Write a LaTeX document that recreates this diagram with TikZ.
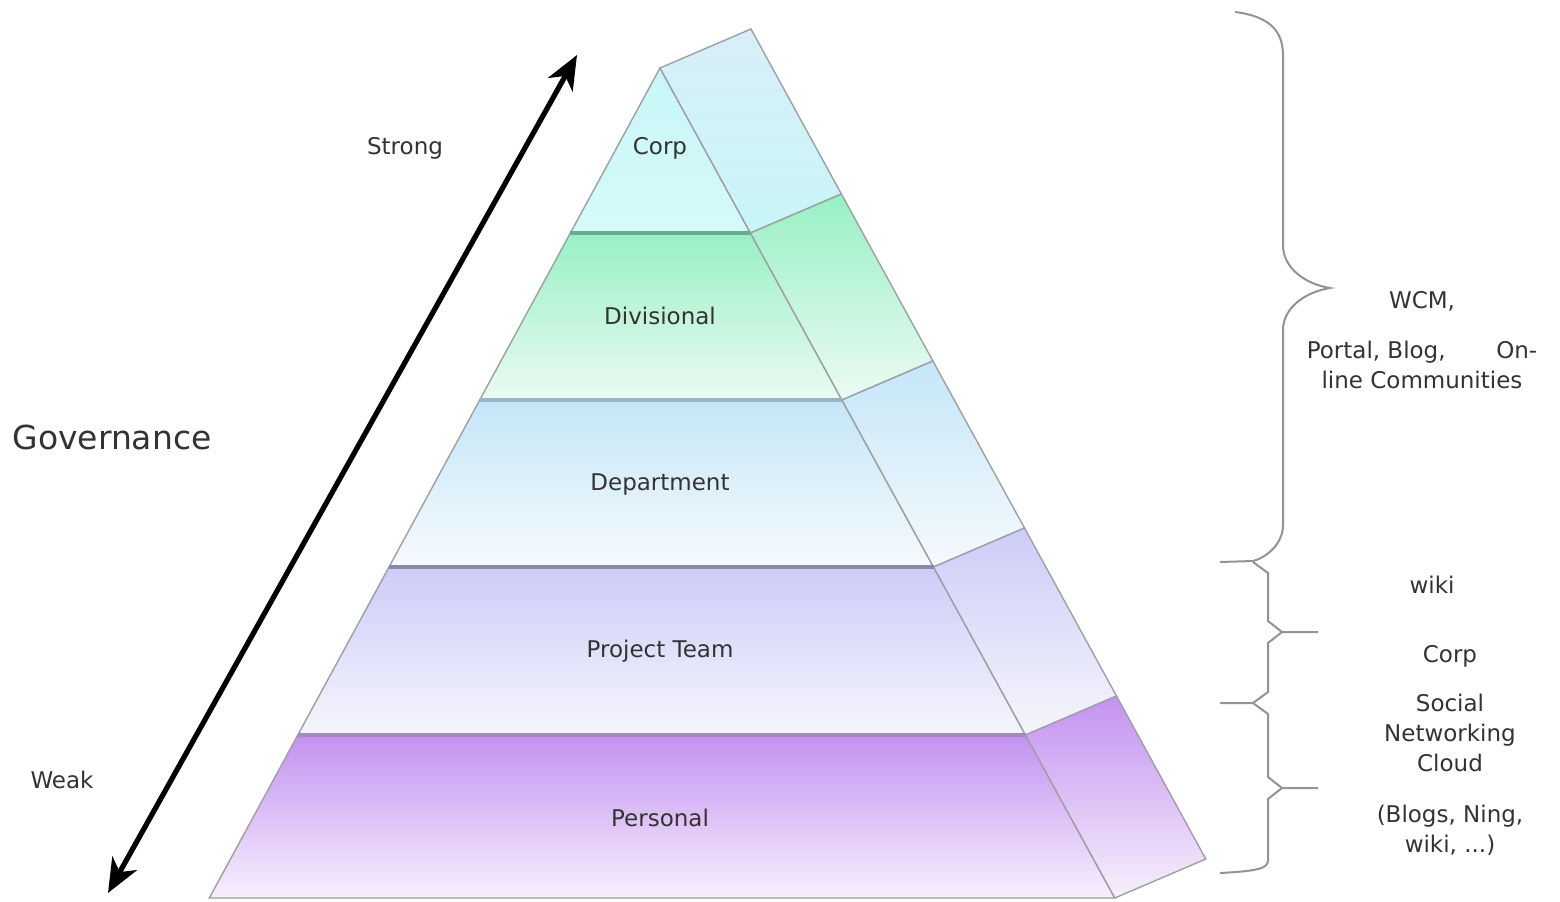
\documentclass[tikz,border=0pt]{standalone}
\usepackage{fontspec}
\setmainfont{DejaVu Sans}
\usetikzlibrary{arrows.meta}

\definecolor{corptop}{HTML}{C8F6F8}
\definecolor{corpbot}{HTML}{D6FAFA}
\definecolor{corpside}{HTML}{D8EEF8}
\definecolor{divtop}{HTML}{98F0C4}
\definecolor{divbot}{HTML}{ECFBF4}
\definecolor{deptop}{HTML}{C4E6F8}
\definecolor{depbot}{HTML}{F6FAFD}
\definecolor{prjtop}{HTML}{CCCCF8}
\definecolor{prjbot}{HTML}{F6F6FD}
\definecolor{pertop}{HTML}{C392F0}
\definecolor{perbot}{HTML}{F7F0FD}
\definecolor{divline}{HTML}{6AAA90}
\definecolor{depline}{HTML}{9AB4C4}
\definecolor{prjline}{HTML}{8A8AA2}
\definecolor{perline}{HTML}{A08CB8}

\tikzset{
  band/.style={draw=gray!75, line width=0.7pt},
  bandtop/.style={line width=1.6pt},
  lbl/.style={text=black!80, font=\fontsize{11.5}{14}\selectfont},
  note/.style={text=black!80, font=\fontsize{11.5}{15}\selectfont, align=center},
  brace/.style={draw=gray!85, line width=1pt},
  govarrow/.style={{Stealth[length=17pt,width=14pt,inset=5pt]}-{Stealth[length=17pt,width=14pt,inset=5pt]}, line width=2.6pt}
}

\begin{document}
\begin{tikzpicture}[x=0.5pt, y=-0.5pt]
  \useasboundingbox (0,0) rectangle (1560,901);

  % front face of the pyramid
  \draw[band, top color=corptop, bottom color=corpbot] (660,68) -- (750.4,233) -- (570.4,233) -- cycle;
  \draw[band, top color=divtop, bottom color=divbot] (570.4,233) -- (750.4,233) -- (841.9,400) -- (479.7,400) -- cycle;
  \draw[band, top color=deptop, bottom color=depbot] (479.7,400) -- (841.9,400) -- (933.5,567) -- (389,567) -- cycle;
  \draw[band, top color=prjtop, bottom color=prjbot] (389,567) -- (933.5,567) -- (1025.5,735) -- (297.8,735) -- cycle;
  \draw[band, top color=pertop, bottom color=perbot] (297.8,735) -- (1025.5,735) -- (1114.8,898) -- (209.3,898) -- cycle;

  % side face
  \draw[band, top color=corpside, bottom color=corptop] (660,68) -- (751,29) -- (841.4,194) -- (750.4,233) -- cycle;
  \draw[band, top color=divtop, bottom color=divbot] (750.4,233) -- (841.4,194) -- (932.9,361) -- (841.9,400) -- cycle;
  \draw[band, top color=deptop, bottom color=depbot] (841.9,400) -- (932.9,361) -- (1024.5,528) -- (933.5,567) -- cycle;
  \draw[band, top color=prjtop, bottom color=prjbot] (933.5,567) -- (1024.5,528) -- (1116.5,696) -- (1025.5,735) -- cycle;
  \draw[band, top color=pertop, bottom color=perbot] (1025.5,735) -- (1116.5,696) -- (1205.8,859) -- (1114.8,898) -- cycle;

  % band separators
  \draw[bandtop, divline] (570.4,233) -- (750.4,233);
  \draw[bandtop, depline] (479.7,400) -- (841.9,400);
  \draw[bandtop, prjline] (389,567) -- (933.5,567);
  \draw[bandtop, perline] (297.8,735) -- (1025.5,735);

  % band labels
  \node[lbl] (corp) at (660,148) {Corp};
  \node[lbl] (divisional) at (660,316) {Divisional};
  \node[lbl] (department) at (660,484) {Department};
  \node[lbl] (project) at (660,651) {Project Team};
  \node[lbl] (personal) at (660,818) {Personal};

  % governance axis
  \coordinate (weakend) at (108,893);
  \coordinate (strongend) at (577,55);
  \draw[govarrow] (weakend) -- (strongend);
  \node[lbl] (strong) at (405,148) {Strong};
  \node[text=black!80, font=\fontsize{16.5}{20}\selectfont] (governance) at (112,437) {Governance};
  \node[lbl] (weak) at (62,780) {Weak};

  % braces
  \draw[brace] (1235,12) .. controls (1268,16) and (1283,30) .. (1283,55) -- (1283,245)
    .. controls (1283,268) and (1305,284) .. (1330,288)
    .. controls (1305,292) and (1283,308) .. (1283,330) -- (1283,525)
    .. controls (1283,545) and (1265,558) .. (1253,561) -- (1220,562);
  \draw[brace] (1253,562) -- (1268,573) -- (1268,621) -- (1282,632) -- (1318,632);
  \draw[brace] (1282,632) -- (1268,643) -- (1268,692) -- (1253,703) -- (1220,703);
  \draw[brace] (1253,703) -- (1268,714) -- (1268,777) -- (1282,788) -- (1318,788);
  \draw[brace] (1282,788) -- (1268,799) -- (1268,860) .. controls (1268,868) and (1260,871) .. (1220,873);

  % tool notes
  \node[note] (wcm) at (1422,340) {WCM,\\[10pt] Portal, Blog,\hspace{2.2em}On-\\line Communities};
  \node[note] (wiki) at (1432,585) {wiki};
  \node[note] (corptool) at (1450,656) {Corp};
  \node[note] (social) at (1450,733) {Social\\Networking\\Cloud};
  \node[note] (blogs) at (1450,830) {(Blogs, Ning,\\wiki, ...)};
\end{tikzpicture}
\end{document}
